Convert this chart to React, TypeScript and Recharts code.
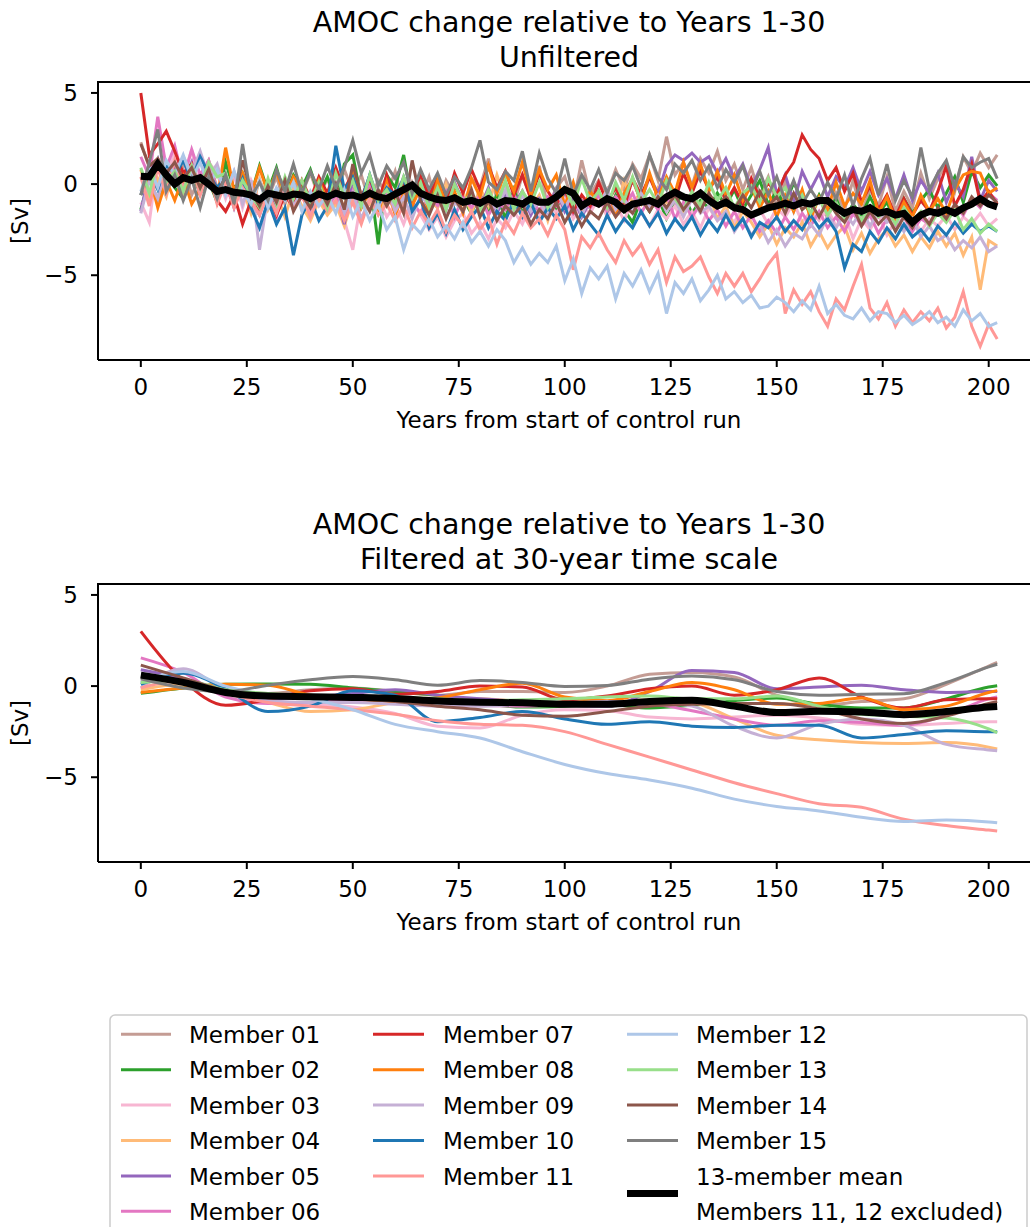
import React from 'react';
import { LineChart, Line, XAxis, YAxis } from 'recharts';

const FONT = 'DejaVu Sans, Verdana, sans-serif';

// unfiltered: one value every 2 years
const unfYears = [
  0, 2, 4, 6, 8, 10, 12, 14, 16, 18, 20, 22, 24, 26, 28, 30, 32, 34, 36, 38,
  40, 42, 44, 46, 48, 50, 52, 54, 56, 58, 60, 62, 64, 66, 68, 70, 72, 74, 76, 78,
  80, 82, 84, 86, 88, 90, 92, 94, 96, 98, 100, 102, 104, 106, 108, 110, 112, 114, 116, 118,
  120, 122, 124, 126, 128, 130, 132, 134, 136, 138, 140, 142, 144, 146, 148, 150, 152, 154, 156, 158,
  160, 162, 164, 166, 168, 170, 172, 174, 176, 178, 180, 182, 184, 186, 188, 190, 192, 194, 196, 198,
  200, 202,
];

const unf01 = [
  2.3, 0.9, 1.2, -0.3, 0.6, 1.1, -0.6, 0.4, 1.3, -0.2,
  0.5, -0.9, 0.3, -1.2, 0.2, -0.8, 0.4, -1.1, 0.1, -0.5,
  0.6, -0.7, 0.3, -0.9, 0.8, -0.4, 0.5, -1.0, 0.2, -0.6,
  0.7, -1.2, 0.1, -0.8, 0.4, -1.3, 0.2, -0.6, -1.5, 0.3,
  -0.2, 1.4, -0.9, 0.1, -1.1, 0.5, -0.8, 1.0, -1.3, -0.2,
  0.4, -1.1, 1.3, -0.6, 0.2, -0.5, 0.8, -0.3, 1.1, 0.3,
  1.6, 0.2, 2.6, 0.5, 1.2, -0.1, 1.4, 0.6, 1.8, 0.2,
  1.1, -0.3, 0.9, -0.6, 0.4, -1.2, 0.1, -1.5, -0.4, -1.8,
  -0.7, -1.9, -0.5, -1.4, 0.2, -1.6, -0.3, -1.2, 0.4, -1.5,
  -0.4, -1.3, 0.6, -0.8, 0.3, 1.2, -0.4, 1.5, 0.6, 1.7,
  0.9, 1.6,
];
const unf02 = [
  -1.4, 0.3, -0.9, 0.6, -0.2, -0.8, 0.7, -0.5, 0.2, -1.0,
  1.2, -0.3, 0.6, -0.6, 1.0, -0.4, 0.9, -0.7, 0.5, -0.2,
  0.8, -0.6, 0.4, -0.9, 1.1, 1.6, -0.8, 0.3, -3.3, 0.5,
  -0.2, 1.6, -1.0, 0.4, -0.9, 0.3, -1.2, -0.1, -0.8, -1.6,
  -0.4, -1.5, -0.6, -1.9, -0.3, -1.6, -0.7, -2.0, -0.8, -1.4,
  -0.5, -1.8, -0.9, -1.3, -0.4, -1.7, -0.6, -1.4, -2.1, -0.8,
  -1.5, -0.7, -1.9, -1.0, -0.6, -1.6, -0.9, -1.3, -0.5, -1.2,
  -0.3, -1.4, -0.6, 0.2, -1.1, -0.4, -1.2, 0.1, -0.9, -1.6,
  -0.6, -1.5, -0.8, -1.9, -1.1, -1.7, -0.7, -1.6, -1.0, -2.0,
  -0.8, -1.6, -0.9, -0.3, -1.3, -0.5, 0.4, -1.0, 0.7, -0.2,
  0.5, -0.1,
];
const unf03 = [
  -1.0, -2.1, 1.4, 0.2, 1.8, 0.4, 1.9, -0.6, 1.2, 0.6,
  -0.8, 0.5, -1.3, 0.2, -0.9, -0.2, -1.6, 0.1, -1.2, -0.5,
  -1.7, -0.4, -1.3, -0.8, -2.0, -3.6, -0.9, -1.4, -0.6, -1.8,
  -1.1, -2.2, -0.9, -1.7, -2.5, -1.8, -2.9, -2.0, -1.6, -2.7,
  -2.1, -3.0, -1.9, -2.4, -1.5, -2.2, -1.1, -1.8, -0.9, -1.6,
  -0.8, -1.9, -1.2, -1.6, -0.7, -1.8, -1.1, -2.0, -0.9, -1.5,
  -2.3, -1.4, -1.9, -1.2, -2.2, -1.5, -2.4, -1.3, -2.0, -1.6,
  -2.1, -1.2, -1.9, -1.4, -2.2, -1.3, -1.8, -1.0, -2.1, -1.5,
  -2.0, -1.4, -2.3, -1.6, -3.0, -1.9, -2.5, -1.7, -2.8, -2.0,
  -2.4, -1.8, -2.6, -1.9, -2.3, -1.7, -2.5, -1.8, -2.2, -1.6,
  -2.3, -1.9,
];
const unf04 = [
  0.8, -0.9, 0.3, -0.7, 1.2, -0.5, 0.9, -0.3, 0.6, -1.0,
  0.4, -1.1, -0.2, -1.6, 0.3, -1.4, -0.5, -1.8, -0.3, -1.2,
  -2.0, -0.9, -1.7, -1.1, -2.3, -0.8, -1.9, -1.0, -1.6, -0.6,
  -1.5, -0.4, -1.2, 0.1, -0.9, -1.3, 0.0, -1.1, -0.4, -1.6,
  -0.2, -1.2, 0.5, -0.9, -1.5, -0.4, -1.3, -0.6, -2.0, -0.5,
  -1.4, -0.3, -1.7, -0.8, -1.2, -0.5, -1.5, 0.2, -1.1, -0.4,
  -1.3, -0.2, -1.0, -0.6, -1.6, -0.7, -1.4, -0.5, -1.9, -1.2,
  -2.4, -1.5, -2.1, -2.9, -2.2, -3.3, -2.4, -2.9, -2.1, -3.4,
  -2.6, -3.5, -2.8, -2.3, -3.6, -2.7, -3.8, -3.0, -2.5, -3.4,
  -2.8, -3.7, -2.9, -3.5, -2.6, -3.4, -2.7, -3.9, -2.9, -5.8,
  -3.1, -3.4,
];
const unf05 = [
  -1.5, 0.6, 1.4, -0.2, 1.0, 0.1, 1.2, -0.5, 0.8, -0.8,
  0.2, -1.3, 0.1, -0.9, -1.7, -0.3, -1.5, 0.2, -1.1, -0.5,
  -1.6, 0.1, -1.2, -0.4, -2.2, 0.3, -1.0, 0.5, -0.8, -0.1,
  -0.9, 0.4, -0.6, 0.3, -1.2, -0.2, -1.4, 0.1, -1.0, -0.5,
  -1.3, -0.2, -1.6, -0.6, -1.1, -0.4, -1.7, -0.8, -1.3, -0.3,
  -1.5, -0.7, -1.8, -0.9, -1.2, -0.6, -1.6, -0.8, 0.2, -0.9,
  0.4, -0.5, 1.0, 1.6, 1.3, 1.7, 1.2, 1.5, 0.6, 1.4,
  0.3, 1.1, -0.2, 0.8, 2.0, -0.6, 0.5, -1.0, 0.7, -0.3,
  0.6, -0.7, 0.4, -0.2, 0.9, -0.4, 0.7, -0.6, 0.3, -0.8,
  0.5, -0.9, 0.2, -0.5, 0.6, -1.0, 0.1, -0.7, 1.5, -0.9,
  0.2, -0.4,
];
const unf06 = [
  1.5, 0.4, 3.7, 0.9, 2.1, 0.2, 1.9, 0.5, 1.3, -0.4,
  -0.1, -1.2, 0.4, -1.0, -1.6, -0.5, -1.8, 0.0, -1.3, -0.7,
  -1.5, -0.3, -1.2, -0.6, -1.7, -0.4, -1.3, 0.1, -1.1, -0.6,
  -1.4, -0.2, -1.0, -1.6, -0.5, -1.2, -0.4, -1.8, -0.7, -1.3,
  -0.6, -1.7, -0.9, -1.4, -0.5, -1.8, -0.8, -1.5, -0.7, -1.2,
  -0.4, -1.6, -0.9, -1.3, -0.6, -1.5, -0.7, -1.2, -0.5, -1.6,
  -0.8, -1.4, -0.6, -1.9, -1.0, -1.8, -1.1, -2.0, -1.4, -2.3,
  -1.5, -2.4, -1.7, -2.6, -2.0, -2.7, -1.8, -2.5, -1.6, -2.3,
  -1.5, -2.4, -1.8, -2.6, -1.6, -2.3, -1.7, -2.7, -1.9, -2.4,
  -1.8, -2.6, -1.9, -2.2, -1.5, -2.0, -1.2, -1.7, -0.8, -1.3,
  -0.5, -0.9,
];
const unf07 = [
  5.0, 1.6, 2.2, 2.9, 1.8, 0.6, 1.1, -0.4, 0.3, -0.9,
  -1.5, -0.6, -2.2, -0.9, -1.4, -0.4, -1.7, -0.6, -1.3, 0.2,
  -0.8, 0.4, -0.5, 0.9, -0.3, 0.6, -0.7, 0.3, -1.0, 0.5,
  -0.9, 0.1, -1.2, 0.4, -0.6, 0.3, -1.0, 0.6, -0.5, 0.8,
  -0.3, 1.0, -0.2, 0.7, -0.6, 0.5, -0.8, 0.6, -0.4, -1.1,
  -0.3, -1.5, -0.6, -1.2, 0.1, -1.0, -0.2, -1.3, 0.3, -0.6,
  0.4, -0.7, 0.2, -0.9, 0.6, -0.5, 0.7, -0.3, 0.4, -1.0,
  -0.2, -1.1, 0.3, -0.8, 0.1, -0.6, 0.5, 1.2, 2.7, 1.9,
  1.4, 0.2, 0.9, -0.4, 0.6, -1.0, -0.1, -1.4, -0.6, -1.8,
  -0.8, -1.7, -0.9, -1.5, -0.4, 1.0, -1.2, -0.3, 1.1, -1.0,
  -0.4, -1.1,
];
const unf08 = [
  -0.6, 0.5, -1.3, 0.2, -0.9, 0.4, -1.1, -0.3, 0.5, -0.8,
  2.0, -0.4, 0.6, -0.6, 0.9, -0.5, 0.7, -0.8, 0.4, -0.3,
  -1.2, 0.2, -0.9, -0.1, -1.4, 0.9, -1.3, -0.4, -1.6, 0.1,
  -1.7, -0.5, -1.2, -0.2, -1.5, 0.2, -1.1, -0.4, -1.6, 0.3,
  -0.7, 1.0, -0.5, 0.6, -0.4, 1.2, -0.6, 0.8, -0.3, 0.5,
  -1.2, 0.1, -1.5, -0.4, -1.1, -0.3, -1.6, -0.5, 0.3, -1.0,
  0.6, -0.8, 0.4, -0.5, 1.2, -0.2, 1.1, -0.4, 0.7, -0.6,
  0.5, -0.9, -0.1, -1.3, -0.4, -1.8, -0.6, -1.5, -0.3, -1.9,
  -0.7, -1.4, 0.1, -1.2, -0.5, -1.1, 0.2, -1.6, -0.7, -2.0,
  -1.0, -1.8, -0.6, -1.5, -0.8, -1.6, -0.3, 0.5, 0.7, 0.6,
  -0.5, -0.2,
];
const unf09 = [
  -1.6, 0.2, -0.8, 0.9, 0.3, 1.5, 0.6, 1.8, 0.4, 1.1,
  -0.5, 0.7, -1.1, 0.2, -3.6, -0.6, -1.5, 0.1, -1.2, -0.4,
  -1.8, -0.6, -1.4, 0.0, -1.6, -0.5, -1.9, -0.8, -1.3, -0.2,
  -1.5, -0.7, -1.9, -0.6, -1.2, -0.4, -1.8, -1.0, -1.5, -0.5,
  -1.7, -0.8, -1.4, -0.3, -1.6, -0.6, -1.5, -0.9, -1.8, -0.4,
  -1.3, -0.5, -1.7, -0.7, -1.2, -0.3, -1.4, -0.8, -1.6, -0.5,
  -1.3, -0.6, -1.5, -0.9, -1.8, -0.8, -1.6, -1.2, -2.0, -1.5,
  -2.6, -1.9, -2.8, -2.2, -3.2, -2.5, -3.4, -2.7, -3.0, -2.2,
  -2.8, -1.7, -2.4, -1.6, -2.2, -1.4, -2.3, -1.5, -2.1, -1.7,
  -2.6, -1.9, -2.9, -2.3, -3.1, -2.8, -3.6, -3.1, -3.5, -2.9,
  -3.7, -3.4,
];
const unf10 = [
  -0.6, 0.8, -0.3, 1.1, 0.4, 1.3, 0.2, 1.5, 0.6, -0.2,
  0.4, -0.8, 0.3, -1.3, -2.4, -0.9, -2.2, -1.3, -3.9, -1.7,
  -0.8, -2.0, -1.2, 2.1, -0.3, 0.4, -0.9, 0.5, -1.1, -0.2,
  -0.6, 0.3, -1.5, -0.8, -2.4, -1.6, -2.7, -1.4, -2.5, -1.8,
  -1.2, -2.4, -1.5, -2.0, -0.9, -1.8, -1.0, -2.1, -1.3, -1.9,
  -1.2, -2.5, -1.6, -2.2, -2.8, -1.7, -2.6, -1.9, -2.4, -1.5,
  -2.3, -1.6, -2.7, -1.9, -2.5, -1.8, -2.8, -2.0, -2.6, -1.7,
  -2.5, -1.9, -2.9, -2.1, -2.4, -1.8, -2.6, -2.0, -2.5, -1.7,
  -2.4, -1.9, -2.6, -4.6, -3.3, -3.7, -2.6, -3.2, -2.4, -3.0,
  -2.2, -2.9, -2.5, -3.1, -2.3, -2.8, -2.1, -2.7, -2.2, -2.6,
  -2.3, -2.6,
];
const unf11 = [
  0.4, -1.2, 0.9, -0.5, 1.3, -0.3, 1.0, -0.6, 0.7, -1.1,
  0.1, -1.3, -0.2, -0.9, -1.7, -0.5, -1.6, -0.3, -1.4, -0.6,
  -1.8, -0.7, -1.5, -0.9, -2.0, -1.0, -2.2, -0.8, -1.7, -1.1,
  -2.0, -1.2, -2.4, -1.5, -2.2, -1.4, -2.6, -1.7, -2.3, -1.5,
  -2.5, -1.8, -3.3, -2.0, -2.7, -1.6, -2.4, -1.9, -2.8, -1.7,
  -2.5, -4.7, -2.9, -3.5, -2.7, -3.6, -4.3, -3.1, -3.9, -3.3,
  -4.4, -3.6, -5.4, -4.0, -4.8, -4.5, -4.0, -5.1, -6.0, -4.9,
  -5.6, -4.9, -5.9, -5.2, -4.4, -3.8, -7.1, -5.8, -6.6, -5.9,
  -7.0, -7.8, -6.3, -6.9, -5.6, -4.4, -6.8, -7.4, -6.5, -7.8,
  -6.9, -7.6, -7.0, -7.5, -6.8, -7.9, -7.3, -5.9, -7.8, -8.9,
  -7.7, -8.5,
];
const unf12 = [
  -0.4, 1.0, -0.2, 1.3, 0.5, 1.6, 0.3, 1.2, -0.1, 0.8,
  -0.6, 0.7, -0.4, -1.1, 0.2, -1.3, -0.2, -0.9, 0.1, -1.5,
  -0.4, -1.2, -0.6, -1.6, -0.3, -1.8, -0.9, -2.0, -1.1, -2.5,
  -1.8, -3.6, -2.2, -2.7, -1.9, -2.9, -2.3, -3.0, -2.1, -3.2,
  -2.6, -3.4, -2.5, -3.1, -4.3, -3.5, -4.4, -3.8, -4.3, -3.4,
  -5.3, -4.1, -6.0, -4.6, -5.2, -4.5, -6.3, -4.9, -5.6, -4.7,
  -5.9, -4.9, -7.1, -5.4, -6.0, -5.2, -6.4, -5.8, -5.0, -6.3,
  -5.9, -6.5, -6.1, -6.8, -6.7, -6.2, -6.5, -7.0, -6.4, -6.9,
  -5.6, -7.1, -6.6, -7.2, -7.4, -6.8, -7.5, -7.0, -7.1, -7.6,
  -7.2, -7.7, -7.4, -7.0, -7.6, -7.3, -7.8, -6.9, -7.5, -7.1,
  -7.8, -7.6,
];
const unf13 = [
  0.9, -0.5, 1.3, 0.1, 0.7, -0.4, 1.0, -0.2, 1.2, 0.4,
  0.6, -0.9, 0.2, -0.6, -1.3, 0.3, -1.1, 0.4, -0.8, 0.2,
  -1.0, 0.1, -1.3, 0.6, -0.7, 0.2, -1.2, 0.5, -0.9, -0.3,
  -1.1, 0.4, -0.8, 0.1, -1.3, -0.2, -1.4, 0.0, -1.0, -0.5,
  -1.5, -0.3, -1.2, 0.2, -1.4, -0.4, -1.1, 0.1, -1.3, -0.6,
  -0.2, -1.2, 0.3, -1.0, -0.4, -1.3, 0.1, -0.9, 0.4, -1.0,
  -0.3, -1.1, 0.2, -0.8, -1.4, -0.4, -1.2, 0.1, -0.9, -0.2,
  -1.3, -0.5, -0.1, -1.0, 0.3, -0.7, -0.2, -1.3, -0.6, -1.6,
  -0.8, -1.7, -1.0, -1.9, -1.3, -2.0, -1.2, -1.8, -1.4, -2.2,
  -1.3, -2.0, -1.5, -2.3, -1.6, -2.1, -1.4, -2.5, -1.9, -2.7,
  -2.2, -2.6,
];
const unf14 = [
  2.2, 1.0, 1.4, 0.6, 1.2, 0.3, 0.9, -0.2, 0.8, -0.5,
  0.4, -0.9, 1.3, -0.4, -1.2, -0.1, -1.0, 0.2, -1.5, -0.6,
  -1.3, -0.2, -1.1, 0.0, -1.4, 1.1, -0.6, -1.5, -0.3, -1.2,
  -0.4, -1.6, 1.3, -0.9, -1.7, -0.6, -1.9, -0.8, -1.5, -0.3,
  -1.8, -0.9, -2.0, -1.2, -1.7, -1.1, -2.2, -1.4, -1.9, -1.0,
  -2.1, -1.3, -2.3, -1.5, -1.9, -1.0, -1.8, -1.2, -1.6, -0.8,
  -1.5, -0.7, -1.3, -0.6, -1.4, -0.8, -1.5, -0.5, -1.2, -0.7,
  -1.4, -0.6, -1.3, -0.4, -1.2, -0.7, -1.6, -0.5, -1.4, -1.0,
  -1.8, -0.9, -1.6, -2.1, -1.3, -2.3, -1.5, -2.2, -1.7, -2.6,
  -1.8, -2.4, -1.6, -2.2, -1.3, -1.9, -1.1, -1.6, -0.7, -1.2,
  -0.6, -1.0,
];
const unf15 = [
  -0.6, 1.2, 3.0, -0.4, 0.5, -0.9, 0.3, -1.3, 0.4, -0.8,
  0.5, -1.1, 2.2, -0.7, 0.1, -0.9, 0.8, -0.4, 1.1, -0.5,
  0.7, -0.3, 1.0, -0.2, 0.9, 2.4, 0.6, 1.6, -0.1, 1.0,
  0.3, 1.2, -0.5, 0.8, -0.3, 0.6, -0.6, 0.4, -0.2, 0.9,
  2.4, 0.1, -0.3, 0.7, 0.2, 1.8, -0.4, 1.7, 0.3, -0.5,
  1.4, -0.6, 0.5, -0.3, 0.8, -0.5, 0.6, 0.2, 1.0, -0.2,
  1.6, 0.4, -0.3, 1.1, 0.6, 1.3, 0.2, 1.0, -0.2, 0.8,
  0.1, 1.0, -0.4, 0.7, -0.6, 0.4, -0.9, 0.2, -1.1, -0.3,
  -1.0, 0.1, -0.8, 0.5, -1.2, 0.3, 1.4, -0.6, 1.1, -0.9,
  0.2, -0.7, 2.0, -0.3, 0.6, 1.3, -0.2, 1.5, 0.9, 1.2,
  1.4, 0.3,
];
const unfMean = [
  0.43, 0.4, 1.1, 0.5, 0.0, 0.35, 0.2, 0.35, 0.0, -0.4,
  -0.3, -0.45, -0.5, -0.6, -0.85, -0.5, -0.6, -0.7, -0.55, -0.6,
  -0.8, -0.55, -0.7, -0.5, -0.65, -0.6, -0.75, -0.5, -0.7, -0.8,
  -0.55, -0.3, -0.05, -0.5, -0.7, -0.85, -0.9, -0.75, -1.0, -0.9,
  -1.05, -0.8, -1.1, -0.9, -0.95, -1.1, -0.8, -1.0, -1.0, -0.7,
  -0.3, -0.5, -1.2, -0.9, -1.1, -0.8, -1.0, -1.4, -1.1, -1.0,
  -0.9, -1.1, -0.7, -0.45, -0.7, -0.8, -0.5, -0.9, -1.2, -1.0,
  -1.3, -1.4, -1.7, -1.5, -1.3, -1.2, -1.05, -1.2, -1.0, -1.1,
  -0.9, -0.9, -1.3, -1.6, -1.4, -1.5, -1.3, -1.6, -1.5, -1.7,
  -1.6, -2.1, -1.7, -1.5, -1.6, -1.4, -1.6, -1.3, -1.1, -0.8,
  -1.1, -1.25,
];

// filtered at 30-year time scale: one value every 10 years
const filtYears = [0, 10, 20, 30, 40, 50, 60, 70, 80, 90, 100, 110, 120, 130, 140, 150, 160, 170, 180, 190, 200, 202];

const filt01 = [0.5, 0.2, -0.2, -0.4, -0.2, -0.1, -0.3, -0.5, -0.3, -0.3, -0.35, 0.0, 0.65, 0.75, 0.5, -0.5, -1.05, -0.85, -0.7, 0.1, 1.1, 1.3];
const filt02 = [-0.4, -0.1, 0.1, 0.12, 0.1, -0.1, -0.3, -0.5, -0.9, -1.15, -1.1, -1.0, -1.2, -1.05, -0.8, -0.65, -1.0, -1.2, -1.2, -0.7, -0.05, 0.02];
const filt03 = [0.3, 0.2, -0.4, -0.8, -1.0, -1.15, -1.5, -2.2, -2.3, -1.6, -1.3, -1.35, -1.7, -1.8, -1.7, -1.6, -1.75, -2.1, -2.15, -2.05, -1.95, -1.95];
const filt04 = [-0.2, 0.1, -0.3, -0.9, -1.4, -1.3, -0.9, -0.7, -0.7, -0.85, -1.0, -0.9, -0.75, -0.9, -1.8, -2.7, -2.95, -3.1, -3.15, -3.1, -3.35, -3.45];
const filt05 = [0.9, 0.4, -0.4, -0.7, -0.6, -0.4, -0.2, -0.5, -0.7, -0.85, -1.05, -1.1, -0.3, 0.85, 0.75, -0.15, -0.05, 0.05, -0.2, -0.35, -0.3, -0.3];
const filt06 = [1.55, 0.75, -0.6, -0.95, -0.9, -0.8, -0.75, -0.9, -1.05, -1.1, -1.05, -1.0, -1.0, -1.35, -1.8, -2.15, -1.9, -2.0, -2.15, -1.6, -0.7, -0.6];
const filt07 = [3.0, 0.3, -1.05, -0.75, -0.25, -0.15, -0.45, -0.3, 0.0, -0.05, -0.75, -0.55, -0.15, 0.0, -0.5, -0.2, 0.45, -0.6, -1.2, -0.75, -0.7, -0.7];
const filt08 = [-0.35, -0.1, 0.1, 0.05, -0.5, -0.7, -0.85, -0.65, -0.2, 0.15, -0.6, -0.8, -0.3, 0.2, -0.2, -1.0, -0.95, -0.65, -1.3, -1.1, -0.35, -0.25];
const filt09 = [-0.1, 0.95, -0.2, -0.8, -0.9, -0.9, -1.0, -1.1, -1.1, -1.0, -0.95, -0.85, -0.9, -1.1, -2.2, -2.85, -2.1, -1.8, -2.15, -3.2, -3.5, -3.55];
const filt10 = [0.1, 0.7, -0.15, -1.4, -1.1, -0.25, -0.5, -1.95, -1.72, -1.4, -1.8, -2.1, -1.96, -2.2, -2.27, -2.15, -2.15, -2.85, -2.65, -2.45, -2.5, -2.5];
const filt11 = [-0.1, 0.3, -0.4, -0.9, -1.1, -1.3, -1.55, -1.9, -2.1, -2.15, -2.5, -3.2, -3.9, -4.6, -5.3, -5.9, -6.45, -6.65, -7.3, -7.65, -7.9, -7.95];
const filt12 = [0.2, 0.8, 0.0, -0.5, -0.7, -1.3, -2.1, -2.5, -2.85, -3.6, -4.3, -4.8, -5.15, -5.6, -6.2, -6.6, -6.85, -7.2, -7.43, -7.34, -7.45, -7.5];
const filt13 = [0.2, 0.3, -0.2, -0.4, -0.5, -0.55, -0.6, -0.7, -0.8, -0.75, -0.7, -0.6, -0.55, -0.7, -0.7, -0.55, -1.1, -1.55, -1.65, -1.75, -2.35, -2.55];
const filt14 = [1.15, 0.45, -0.25, -0.55, -0.6, -0.7, -0.85, -1.1, -1.3, -1.6, -1.65, -1.4, -1.1, -1.0, -0.95, -0.95, -1.25, -1.8, -2.05, -1.65, -0.95, -0.85];
const filt15 = [0.4, -0.1, -0.3, 0.05, 0.35, 0.52, 0.35, 0.05, 0.3, 0.2, -0.02, 0.03, 0.38, 0.55, 0.35, -0.3, -0.5, -0.45, -0.42, 0.2, 1.05, 1.2];
const filtMean = [0.6, 0.2, -0.35, -0.55, -0.58, -0.62, -0.68, -0.82, -0.88, -0.92, -1.0, -1.0, -0.85, -0.78, -1.1, -1.45, -1.38, -1.42, -1.57, -1.4, -1.15, -1.12];

const memberNames = [
  'Member 01', 'Member 02', 'Member 03', 'Member 04', 'Member 05', 'Member 06', 'Member 07', 'Member 08',
  'Member 09', 'Member 10', 'Member 11', 'Member 12', 'Member 13', 'Member 14', 'Member 15',
];
const meanLabel = ['13-member mean', 'Members 11, 12 excluded)'];

const xTicks = [0, 25, 50, 75, 100, 125, 150, 175, 200];
const yTicks = [-5, 0, 5];

const colors = [
  '#c49c94', '#2ca02c', '#f7b6d2', '#ffbb78', '#9467bd', '#e377c2', '#d62728', '#ff7f0e',
  '#c5b0d5', '#1f77b4', '#ff9896', '#aec7e8', '#98df8a', '#8c564b', '#7f7f7f',
];

const unfMembers = [unf01, unf02, unf03, unf04, unf05, unf06, unf07, unf08, unf09, unf10, unf11, unf12, unf13, unf14, unf15];
const filtMembers = [filt01, filt02, filt03, filt04, filt05, filt06, filt07, filt08, filt09, filt10, filt11, filt12, filt13, filt14, filt15];

const buildRows = (years: number[], members: number[][], mean: number[]) =>
  years.map((year, i) => {
    const row: Record<string, number> = { year, mean: mean[i] };
    members.forEach((s, k) => { row[`m${k}`] = s[i]; });
    return row;
  });

const unfRows = buildRows(unfYears, unfMembers, unfMean);
const filtRows = buildRows(filtYears, filtMembers, filtMean);

const fmt = (v: number) => (v < 0 ? `\u2212${Math.abs(v)}` : `${v}`);
const tickStyle = { fill: '#000', fontSize: 23, fontFamily: FONT };
const axisStyle = { stroke: '#000', strokeWidth: 2 };

const Panel: React.FC<{ rows: Record<string, number>[]; top: number; curve: 'linear' | 'monotoneX' }> = ({ rows, top, curve }) => (
  <div style={{ position: 'absolute', left: 0, top, width: 1050, height: 450 }}>
    <LineChart width={1050} height={450} data={rows} margin={{ top: 82, right: 10, bottom: 20, left: 0 }}>
      <XAxis dataKey="year" type="number" domain={[-10.1, 212.1]} ticks={xTicks} interval={0} allowDataOverflow
        height={70} tickSize={7} tickMargin={12} axisLine={axisStyle} tickLine={axisStyle} tick={tickStyle} />
      <YAxis type="number" domain={[-9.65, 5.6]} ticks={yTicks} interval={0} allowDataOverflow width={98}
        tickSize={7} tickMargin={13} tickFormatter={fmt} axisLine={axisStyle} tickLine={axisStyle} tick={tickStyle} />
      {memberNames.map((name, k) => (
        <Line key={name} name={name} dataKey={`m${k}`} type={curve} stroke={colors[k]} strokeWidth={3}
          dot={false} activeDot={false} isAnimationActive={false} />
      ))}
      <Line dataKey="mean" name={meanLabel[0]} type={curve} stroke="#000" strokeWidth={7}
        dot={false} activeDot={false} isAnimationActive={false} />
    </LineChart>
  </div>
);

const legendCols = [
  { x1: 121, x2: 171, tx: 189 },
  { x1: 373, x2: 424, tx: 443 },
  { x1: 627, x2: 678, tx: 696 },
];
const rowBase = (r: number) => 1043 + r * 35.4;

export default function App() {
  const textProps = { fontFamily: FONT, fill: '#000' };
  const legendItems = memberNames.map((name, k) => {
    const col = k < 6 ? 0 : k < 11 ? 1 : 2;
    const row = k < 6 ? k : k < 11 ? k - 6 : k - 11;
    return { name, color: colors[k], col, row };
  });
  const meanY = (rowBase(4) + rowBase(5)) / 2 - 8.7;
  return (
    <div style={{ position: 'absolute', left: 0, top: 0, width: 1030, height: 1227, overflow: 'hidden', background: '#fff' }}>
      <Panel rows={unfRows} top={0} curve="linear" />
      <Panel rows={filtRows} top={502} curve="monotoneX" />
      <svg width={1030} height={1227} style={{ position: 'absolute', left: 0, top: 0, pointerEvents: 'none' }}>
        {/* top spines of both panels */}
        <line x1={97} x2={1030} y1={82} y2={82} stroke="#000" strokeWidth={2} />
        <line x1={97} x2={1030} y1={584} y2={584} stroke="#000" strokeWidth={2} />
        <g {...textProps} fontSize={28.5} textAnchor="middle">
          <text x={569} y={32}>AMOC change relative to Years 1-30</text>
          <text x={569} y={67}>Unfiltered</text>
          <text x={569} y={534}>AMOC change relative to Years 1-30</text>
          <text x={569} y={569}>Filtered at 30-year time scale</text>
        </g>
        <g {...textProps} fontSize={23} textAnchor="middle">
          <text x={569} y={428}>Years from start of control run</text>
          <text x={569} y={930}>Years from start of control run</text>
          <text transform="translate(28,221) rotate(-90)">[Sv]</text>
          <text transform="translate(28,723) rotate(-90)">[Sv]</text>
        </g>
        <rect x={110} y={1015} width={917} height={225} rx={5} fill="#fff" fillOpacity={0.8} stroke="#cccccc" strokeWidth={1.5} />
        <g {...textProps} fontSize={23}>
          {legendItems.map((it) => {
            const c = legendCols[it.col];
            const b = rowBase(it.row);
            return (
              <g key={it.name}>
                <line x1={c.x1} x2={c.x2} y1={b - 8.7} y2={b - 8.7} stroke={it.color} strokeWidth={3} />
                <text x={c.tx} y={b}>{it.name}</text>
              </g>
            );
          })}
          <line x1={legendCols[2].x1} x2={legendCols[2].x2} y1={meanY} y2={meanY} stroke="#000" strokeWidth={7} />
          <text x={legendCols[2].tx} y={rowBase(4)}>{meanLabel[0]}</text>
          <text x={legendCols[2].tx} y={rowBase(5)}>{meanLabel[1]}</text>
        </g>
      </svg>
    </div>
  );
}
